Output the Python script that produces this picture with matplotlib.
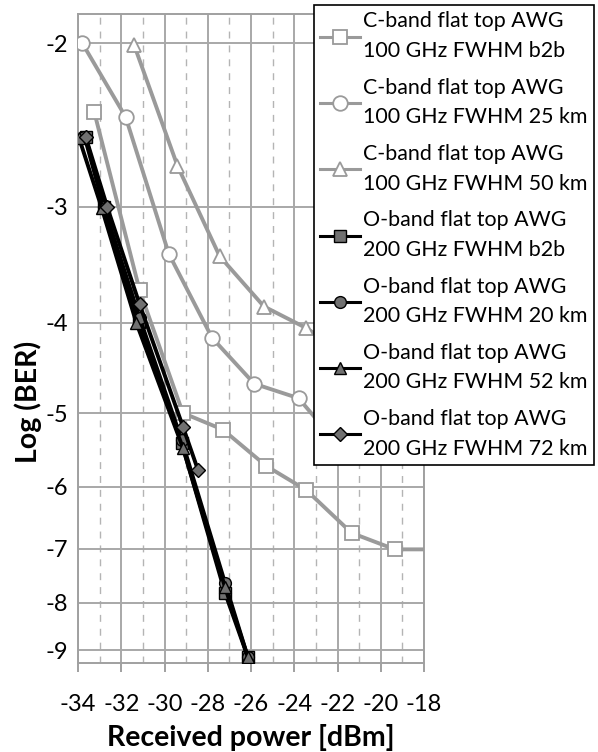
import numpy as np
import matplotlib
matplotlib.use("Agg")
import matplotlib.pyplot as plt
from matplotlib.ticker import FixedLocator, FixedFormatter, MultipleLocator

plt.rcParams['font.family'] = ['Lato', 'DejaVu Sans']
plt.rcParams['axes.unicode_minus'] = False

# C-band flat top AWG, 100 GHz FWHM
cb2b_x = [-33.25, -31.15, -29.15, -27.3, -25.3, -23.45, -21.35, -19.35, -17.0]
cb2b_y = [-2.37, -3.69, -5.0, -5.21, -5.70, -6.05, -6.73, -7.01, -7.01]
c25_x = [-33.8, -31.8, -29.8, -27.8, -25.85, -23.8, -22.0]
c25_y = [-2.0, -2.40, -3.37, -4.15, -4.65, -4.82, -5.4]
c50_x = [-31.4, -29.4, -27.45, -25.4, -23.45, -21.4]
c50_y = [-2.01, -2.71, -3.39, -3.84, -4.05, -4.35]

# O-band flat top AWG, 200 GHz FWHM
ob2b_x = [-33.65, -32.8, -31.2, -29.2, -27.2, -26.15]
ob2b_y = [-2.52, -3.0, -3.99, -5.39, -7.81, -9.15]
o20_x = [-33.7, -32.8, -31.15, -29.2, -27.2, -26.15]
o20_y = [-2.52, -3.0, -3.95, -5.35, -7.62, -9.15]
o52_x = [-33.95, -32.9, -31.3, -29.15, -27.2, -26.15]
o52_y = [-2.53, -3.01, -4.0, -5.45, -7.7, -9.15]
o72_x = [-33.65, -32.65, -31.15, -29.15, -28.45]
o72_y = [-2.52, -3.0, -3.82, -5.17, -5.76]

labels = [
    "C-band flat top AWG\n100 GHz FWHM b2b",
    "C-band flat top AWG\n100 GHz FWHM 25 km",
    "C-band flat top AWG\n100 GHz FWHM 50 km",
    "O-band flat top AWG\n200 GHz FWHM b2b",
    "O-band flat top AWG\n200 GHz FWHM 20 km",
    "O-band flat top AWG\n200 GHz FWHM 52 km",
    "O-band flat top AWG\n200 GHz FWHM 72 km",
]
y_ticks = [-2, -3, -4, -5, -6, -7, -8, -9]
x_ticks = [-34, -32, -30, -28, -26, -24, -22, -20, -18]


# the BER axis is spaced as log10(-log10(BER))
def fwd(y):
    y = np.asarray(y, dtype=float)
    return -np.log10(np.clip(-y, 1e-6, None))


def inv(u):
    return -np.power(10.0, -np.asarray(u, dtype=float))


fig = plt.figure(figsize=(5.98, 7.52), dpi=100)
ax = fig.add_axes([78 / 598, 1 - 663 / 752, (424 - 78) / 598, (663 - 14) / 752])
ax.set_yscale('function', functions=(fwd, inv))

gray = '#9a9a9a'
ckw = dict(color=gray, lw=2.8, markersize=10.5, markerfacecolor='white',
           markeredgecolor=gray, markeredgewidth=1.3, zorder=3)
okw = dict(color='black', lw=2.8, markersize=8.5, markerfacecolor='#707070',
           markeredgecolor='black', markeredgewidth=1.0, zorder=4)

ax.plot(cb2b_x, cb2b_y, marker='s', label=labels[0], **ckw)
ax.plot(c25_x, c25_y, marker='o', label=labels[1], **ckw)
ax.plot(c50_x, c50_y, marker='^', label=labels[2], **ckw)
ax.plot(ob2b_x, ob2b_y, marker='s', label=labels[3], **okw)
ax.plot(o20_x, o20_y, marker='o', label=labels[4], **okw)
ax.plot(o52_x, o52_y, marker='^', label=labels[5], **okw)
ax.plot(o72_x, o72_y, marker='D', label=labels[6], **dict(okw, markersize=7.5))

ax.set_xlim(-34, -18)
ax.set_ylim(-9.29, -1.86)
ax.xaxis.set_major_locator(FixedLocator(x_ticks))
ax.xaxis.set_major_formatter(FixedFormatter([str(v) for v in x_ticks]))
ax.xaxis.set_minor_locator(MultipleLocator(1))
ax.yaxis.set_major_locator(FixedLocator(y_ticks))
ax.yaxis.set_major_formatter(FixedFormatter([str(v) for v in y_ticks]))
ax.yaxis.set_minor_locator(FixedLocator([]))

ax.grid(which='major', color='#a8a8a8', lw=1.4, ls='-', zorder=0)
ax.grid(which='minor', axis='x', color='#b4b4b4', lw=1.0, ls=(0, (5, 5)), zorder=0)
ax.set_axisbelow(True)
for s in ax.spines.values():
    s.set_color('#a0a0a0')
    s.set_linewidth(1.4)

ax.tick_params(axis='x', which='major', length=6.5, color='#a0a0a0', width=1.4,
               labelsize=17, pad=16)
ax.tick_params(axis='x', which='minor', length=0)
ax.tick_params(axis='y', length=0, labelsize=17, pad=7)

ax.set_xlabel("Received power [dBm]", fontsize=20.5, fontweight='bold', labelpad=6)
fig.text(28 / 598, 1 - 402 / 752, "Log (BER)", rotation=90, ha='center', va='center',
         fontsize=20.5, fontweight='bold')

leg = ax.legend(loc='upper left', bbox_to_anchor=(314 / 598, 1 - 5 / 752),
                bbox_transform=fig.transFigure, fontsize=15.4, frameon=True,
                fancybox=False, edgecolor='black', framealpha=1,
                handlelength=1.85, handletextpad=0.15, labelspacing=0.78,
                borderpad=0.3, borderaxespad=0)
leg.set_zorder(10)
leg.get_frame().set_linewidth(1.2)
for t in leg.get_texts():
    t.set_linespacing(1.6)
for h in leg.get_lines():
    h.set_linewidth(2.2)

fig.savefig("out.png", dpi=100)
